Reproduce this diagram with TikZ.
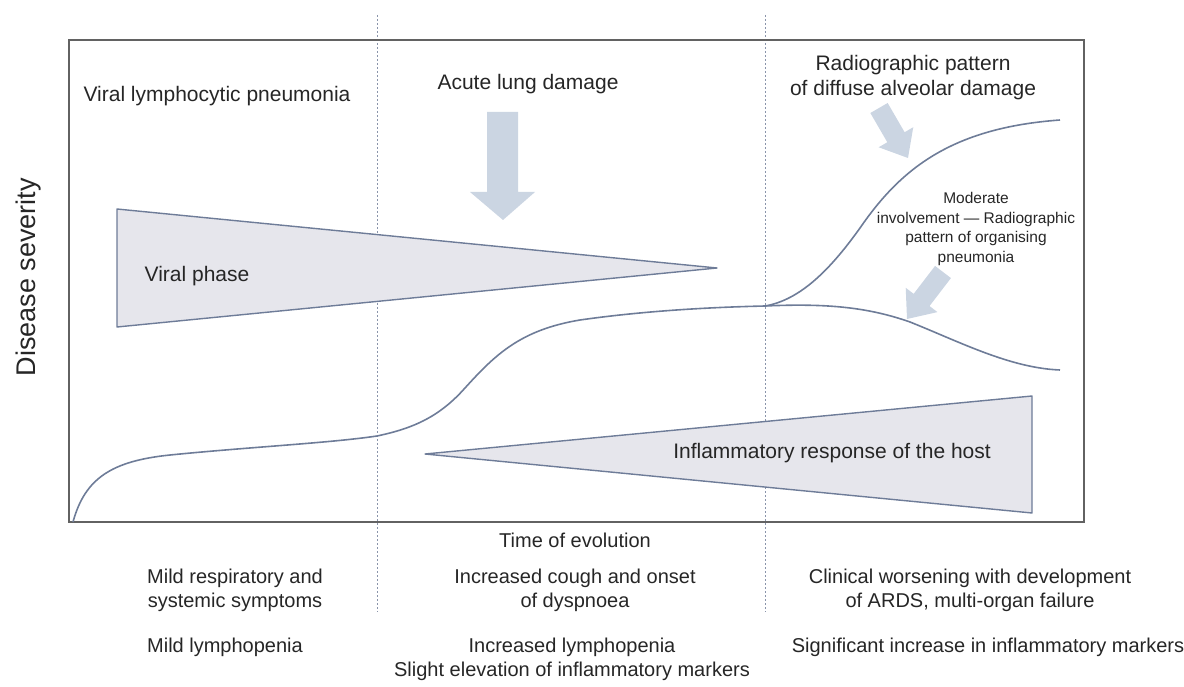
\documentclass[tikz,border=0pt]{standalone}
\usepackage{fontspec}
\setmainfont{Liberation Sans}
\usetikzlibrary{calc}
\definecolor{framec}{HTML}{626262}
\definecolor{curvec}{HTML}{6E7C98}
\definecolor{trifill}{HTML}{E6E6EC}
\definecolor{arrfill}{HTML}{CBD5E2}
\definecolor{dashc}{HTML}{8A94AA}
\definecolor{txtc}{HTML}{262626}
\tikzset{
  lbl/.style={text=txtc, align=center, inner sep=0pt, font=\fontsize{21}{25}\selectfont},
  botlbl/.style={text=txtc, align=center, inner sep=0pt, font=\fontsize{20}{24}\selectfont},
  smalllbl/.style={text=txtc, align=center, inner sep=0pt, font=\fontsize{15.5}{19.5}\selectfont},
  curveline/.style={draw=curvec, line width=1.6pt},
  triangle/.style={draw=curvec, fill=trifill, line width=1.4pt, line join=round},
  blockarrow/.style={fill=arrfill, draw=none},
  phaseline/.style={draw=dashc, line width=0.8pt, dash pattern=on 2pt off 2pt},
  framebox/.style={draw=framec, line width=2.5pt}
}
\begin{document}
\begin{tikzpicture}[x=1pt, y=-1pt]
\useasboundingbox (0,0) rectangle (1184,687);
% phase separators
\coordinate (d1t) at (377,15);
\coordinate (d1b) at (377,612);
\coordinate (d2t) at (765,15);
\coordinate (d2b) at (765,612);
\draw[phaseline] (d1t) -- (d1b);
\draw[phaseline] (d2t) -- (d2b);
% frame
\coordinate (fa) at (69,40);
\coordinate (fb) at (1084,522);
\draw[framebox] (fa) rectangle (fb);
% triangles
\coordinate (v1) at (117,209);
\coordinate (v2) at (117,327);
\coordinate (v3) at (717,268);
\draw[triangle] (v1) -- (v3) -- (v2) -- cycle;
\coordinate (i1) at (425,454);
\coordinate (i2) at (1032,396);
\coordinate (i3) at (1032,513);
\draw[triangle] (i1) -- (i2) -- (i3) -- cycle;
% curve
\coordinate (c0) at (73,522);
\coordinate (c1) at (170,455);
\coordinate (c2) at (377,436);
\coordinate (c3) at (465,388);
\coordinate (c4) at (580,320);
\coordinate (br) at (765,306);
\coordinate (u1) at (860,228);
\coordinate (uend) at (1060,120);
\coordinate (l1) at (910,322);
\coordinate (lend) at (1060,370);
\draw[curveline] (c0) .. controls (85,478) and (112,461) .. (c1)
  .. controls (250,447) and (330,443) .. (c2)
  .. controls (415,428) and (440,416) .. (c3)
  .. controls (495,355) and (520,330) .. (c4)
  .. controls (650,310) and (720,307) .. (br);
\draw[curveline] (br) .. controls (800,300) and (830,270) .. (u1)
  .. controls (900,170) and (950,128) .. (uend);
\draw[curveline] (br) .. controls (830,303) and (870,308) .. (l1)
  .. controls (960,342) and (1010,368) .. (lend);
% acute lung damage arrow
\coordinate (da) at (503,220);
\fill[blockarrow] (487,112) -- (518,112) -- (518,192) -- (535,192) -- (da) -- (470,192) -- (487,192) -- cycle;
% diagonal arrows
\coordinate (at) at (879,108);
\coordinate (ap) at (908,158);
\coordinate (ah) at ($(ap)!24pt!(at)$);
\fill[blockarrow] ($(at)!10pt!90:(ap)$) -- ($(ah)!10pt!-90:(at)$) -- ($(ah)!20pt!-90:(at)$) -- (ap)
  -- ($(ah)!20pt!90:(at)$) -- ($(ah)!10pt!90:(at)$) -- ($(at)!10pt!-90:(ap)$) -- cycle;
\coordinate (bt) at (943,272);
\coordinate (bp) at (907,319);
\coordinate (bh) at ($(bp)!24pt!(bt)$);
\fill[blockarrow] ($(bt)!10pt!90:(bp)$) -- ($(bh)!10pt!-90:(bt)$) -- ($(bh)!20pt!-90:(bt)$) -- (bp)
  -- ($(bh)!20pt!90:(bt)$) -- ($(bh)!10pt!90:(bt)$) -- ($(bt)!10pt!-90:(bp)$) -- cycle;
% labels
\node[lbl] (vlp) at (217,96) {Viral lymphocytic pneumonia};
\node[lbl] (ald) at (528,84) {Acute lung damage};
\node[lbl] (rad) at (913,78) {Radiographic pattern\\of diffuse alveolar damage};
\node[smalllbl] (mod) at (976,229) {Moderate\\involvement --- Radiographic\\pattern of organising\\pneumonia};
\node[lbl] (vph) at (197,276) {Viral phase};
\node[lbl] (inf) at (832,453) {Inflammatory response of the host};
\node[text=txtc, inner sep=0pt, rotate=90, font=\fontsize{27}{30}\selectfont] (ds) at (29,277) {Disease severity};
\node[botlbl] (toe) at (575,540) {Time of evolution};
\node[botlbl] (b11) at (235,590) {Mild respiratory and\\systemic symptoms};
\node[botlbl] (b12) at (575,590) {Increased cough and onset\\of dyspnoea};
\node[botlbl] (b13) at (970,590) {Clinical worsening with development\\of ARDS, multi-organ failure};
\node[botlbl] (b21) at (225,647) {Mild lymphopenia};
\node[botlbl] (b22) at (572,659) {Increased lymphopenia\\Slight elevation of inflammatory markers};
\node[botlbl] (b23) at (988,647) {Significant increase in inflammatory markers};
\end{tikzpicture}
\end{document}
